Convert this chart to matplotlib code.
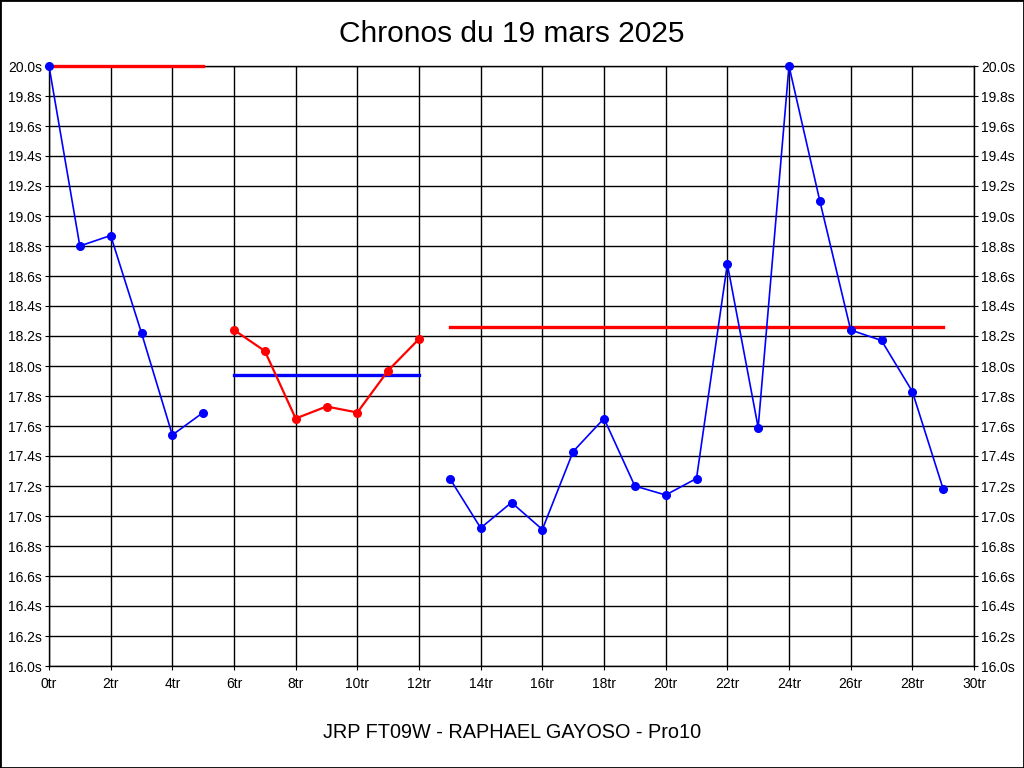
import matplotlib
matplotlib.use("Agg")
import matplotlib.pyplot as plt
from matplotlib.patches import Rectangle
from matplotlib.ticker import FuncFormatter, MultipleLocator

plt.rcParams['font.family'] = ['Liberation Sans', 'DejaVu Sans']

title = "Chronos du 19 mars 2025"
footer = "JRP FT09W - RAPHAEL GAYOSO - Pro10"

laps1 = [0, 1, 2, 3, 4, 5]
times1 = [20.0, 18.80, 18.87, 18.22, 17.54, 17.69]
avg1 = 20.0

laps2 = [6, 7, 8, 9, 10, 11, 12]
times2 = [18.24, 18.10, 17.65, 17.73, 17.69, 17.97, 18.18]
avg2 = 17.94

laps3 = [13, 14, 15, 16, 17, 18, 19, 20, 21, 22, 23, 24, 25, 26, 27, 28, 29]
times3 = [17.25, 16.92, 17.09, 16.91, 17.43, 17.65, 17.20, 17.14, 17.25,
          18.68, 17.59, 20.0, 19.10, 18.24, 18.17, 17.83, 17.18]
avg3 = 18.26

W, H = 1024, 768
fig = plt.figure(figsize=(W / 100, H / 100), dpi=100)
fig.patch.set_facecolor('white')
ax = fig.add_axes([49 / W, (H - 666) / H, 925 / W, 600 / H])

ax.set_xlim(0, 30)
ax.set_ylim(16.0, 20.0)
ax.xaxis.set_major_locator(MultipleLocator(2))
ax.yaxis.set_major_locator(MultipleLocator(0.2))
ax.xaxis.set_major_formatter(FuncFormatter(lambda v, p: f"{int(round(v))}tr"))
ax.yaxis.set_major_formatter(FuncFormatter(lambda v, p: f"{v:.1f}s"))
ax.grid(True, color='black', linewidth=1.0)
ax.set_axisbelow(True)
for s in ax.spines.values():
    s.set_color('black')
    s.set_linewidth(1.0)
ax.tick_params(axis='both', labelsize=10, length=3, color='black', pad=2)
ax.tick_params(axis='x', pad=5)
ax.tick_params(axis='y', right=True, labelright=True)

ax.plot([laps1[0], laps1[-1]], [avg1, avg1], color='#ff0000', linewidth=2.4, zorder=3, clip_on=False)
ax.plot([laps2[0], laps2[-1]], [avg2, avg2], color='#0000ff', linewidth=2.4, zorder=3)
ax.plot([laps3[0], laps3[-1]], [avg3, avg3], color='#ff0000', linewidth=2.4, zorder=3)

mk = dict(marker='o', markersize=5.5, clip_on=False, zorder=4)
ax.plot(laps1, times1, color='#0000ff', linewidth=1.2, **mk)
ax.plot(laps2, times2, color='#ff0000', linewidth=1.6, **mk)
ax.plot(laps3, times3, color='#0000ff', linewidth=1.2, **mk)

fig.text(0.5, 1 - 34 / H, title, ha='center', va='center', fontsize=21.5)
fig.text(0.5, 1 - 733 / H, footer, ha='center', va='center', fontsize=14.3)

fig.patches.append(Rectangle((0, 0), 1, 1, transform=fig.transFigure, fill=False,
                             edgecolor='black', linewidth=2))

fig.savefig("out.png", dpi=100)
